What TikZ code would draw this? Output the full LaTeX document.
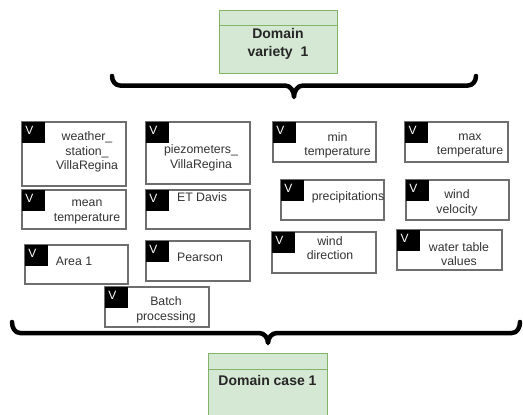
\documentclass[tikz,border=0pt]{standalone}
\usepackage{fontspec}
\setmainfont{Liberation Sans}
\usetikzlibrary{calc}
\definecolor{txt}{HTML}{333333}
\definecolor{bord}{HTML}{6E6E6E}
\definecolor{gfill}{HTML}{D5E8D4}
\definecolor{gline}{HTML}{82B366}
\tikzset{
  itembox/.style={draw=bord, line width=1.2pt, fill=white, inner sep=0pt, outer sep=0pt, anchor=north west},
  vtag/.style={fill=black, inner sep=0pt, outer sep=0pt, minimum width=23pt, minimum height=21pt, anchor=north west},
  vletter/.style={text=white, inner sep=0pt, font=\fontsize{12}{14}\selectfont},
  itemtext/.style={text=txt, align=center, inner sep=0pt, font=\fontsize{12.3}{14.6}\selectfont},
  domainbox/.style={draw=gline, line width=1pt, fill=gfill, inner sep=0pt, outer sep=0pt, anchor=north west},
  domaintext/.style={text=black!85, align=center, inner sep=0pt, font=\bfseries\fontsize{14}{18}\selectfont},
  bracket/.style={draw=black, line width=4.5pt, line cap=round, line join=round}
}
\newcommand\vitem[8]{%
  \node[itembox, minimum width=#4pt, minimum height=#5pt] (#1) at (#2,#3) {};
  \node[vtag] (#1-tag) at (#1.north west) {};
  \node[vletter] (#1-v) at ($(#1.north west)+(7.5,8)$) {V};
  \node[itemtext] (#1-text) at (#6,#7) {#8};
}
\begin{document}
\begin{tikzpicture}[x=1pt,y=-1pt]
\useasboundingbox (0,0) rectangle (523,415);
% top domain box
\node[domainbox, minimum width=118pt, minimum height=63pt] (dv) at (219,10) {};
\draw[gline, line width=1pt] ($(dv.north west)+(0,15)$) -- ($(dv.north east)+(0,15)$);
\node[domaintext] (dvt) at (278,44) {Domain\\variety\ \ 1};
% top bracket
\draw[bracket] (112,76)
  to[out=-90,in=180] (120,85.5) -- (285,85.5) to[out=0,in=90] (294,97)
  to[out=90,in=180] (303,85.5) -- (468,85.5) to[out=0,in=-90] (476,76);
% items
\vitem{ws}{22}{122}{104}{64}{87}{152}{weather\_\\station\_\\VillaRegina}
\vitem{pz}{146}{122}{104}{62}{201}{158}{piezometers\_\\VillaRegina}
\vitem{mint}{273}{122}{103}{40}{337.5}{145.5}{min\\temperature}
\vitem{maxt}{405}{122}{103}{40}{470}{145.5}{max\\temperature}
\vitem{meant}{22}{190}{104}{39}{87}{212}{mean\\temperature}
\vitem{et}{146}{190}{104}{39}{202}{197}{ET Davis}
\vitem{prec}{281}{180}{103}{40}{348}{197}{precipitations}
\vitem{wv}{406}{180}{103}{40}{457}{203}{wind\\velocity}
\vitem{wd}{272}{232}{104}{41}{330}{248}{wind\\direction}
\vitem{wt}{397}{230}{105}{40}{459}{254}{water table\\values}
\vitem{area}{25}{245}{103}{39}{74}{261}{Area 1}
\vitem{pear}{146}{241}{104}{40}{200}{257}{Pearson}
\vitem{batch}{105}{287}{104}{40}{166}{310}{Batch\\processing}
% bottom bracket
\draw[bracket] (12,322) to[out=-90,in=180] (20,333) -- (259,333) to[out=0,in=90] (268,343)
  to[out=90,in=180] (277,333) -- (512,333) to[out=0,in=-90] (520,322);
% bottom domain box
\node[domainbox, minimum width=119pt, minimum height=68pt] (dc) at (208,353) {};
\draw[gline, line width=1pt] ($(dc.north west)+(0,16)$) -- ($(dc.north east)+(0,16)$);
\node[domaintext] (dct) at (267.5,380) {Domain case 1};
\end{tikzpicture}
\end{document}
